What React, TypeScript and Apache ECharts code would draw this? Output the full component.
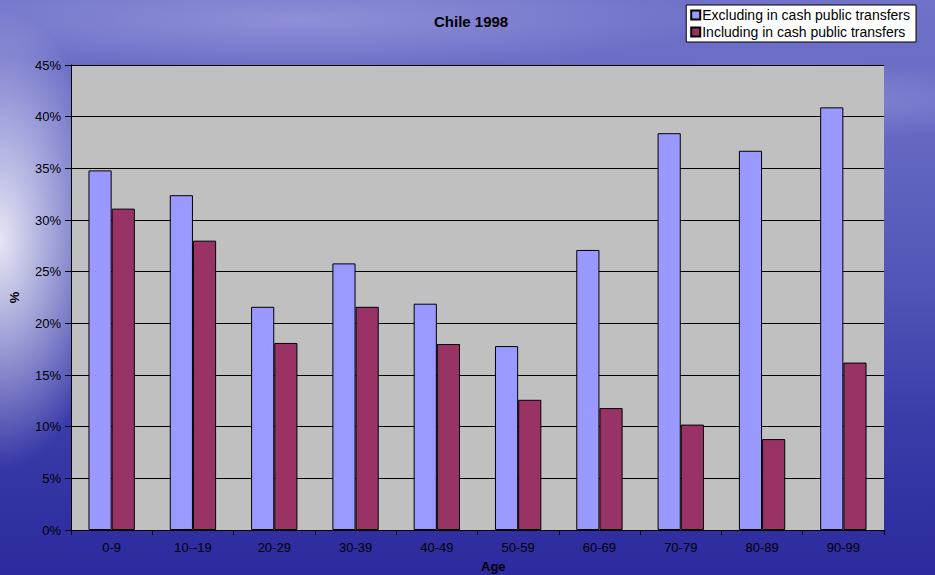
import React, { useEffect, useRef } from "react";
import * as echarts from "echarts";

const categories = ["0-9", "10--19", "20-29", "30-39", "40-49", "50-59", "60-69", "70-79", "80-89", "90-99"];
const excluding = [34.8, 32.4, 21.6, 25.8, 21.9, 17.8, 27.1, 38.4, 36.7, 40.9];
const including = [31.1, 28.0, 18.1, 21.6, 18.0, 12.6, 11.8, 10.2, 8.8, 16.2];
const seriesNames = ["Excluding in cash public transfers", "Including in cash public transfers"];

export default function App() {
  const ref = useRef<HTMLDivElement>(null);
  useEffect(() => {
    if (!ref.current) return;
    const chart = echarts.init(ref.current, null, { renderer: "svg" });
    const font = "Arial, 'Liberation Sans', sans-serif";
    chart.setOption({
      animation: false,
      backgroundColor: "transparent",
      title: {
        text: "Chile 1998",
        left: 429,
        top: 9,
        textStyle: { fontFamily: font, fontSize: 15, fontWeight: "bold", color: "#000" },
      },
      legend: {
        orient: "vertical",
        right: 19,
        top: 5,
        backgroundColor: "#fff",
        borderColor: "#000",
        borderWidth: 1,
        borderRadius: 0,
        padding: [3, 6, 3, 4],
        itemGap: 3,
        itemWidth: 9,
        itemHeight: 9,
        icon: "rect",
        textStyle: { fontFamily: font, fontSize: 14, color: "#000", padding: [0, 0, 0, -3] },
        data: seriesNames,
      },
      grid: { left: 71, right: 51, top: 65, bottom: 45, show: true, backgroundColor: "#C0C0C0", borderWidth: 0 },
      xAxis: {
        type: "category",
        data: categories,
        axisLine: { lineStyle: { color: "#000", width: 1 } },
        axisTick: { show: true, alignWithLabel: false, length: 5, lineStyle: { color: "#000" } },
        axisLabel: { fontFamily: font, fontSize: 13, color: "#000", margin: 11 },
      },
      yAxis: {
        type: "value",
        min: 0,
        max: 45,
        interval: 5,
        name: "%",
        nameLocation: "middle",
        nameGap: 50,
        nameRotate: 90,
        nameTextStyle: { fontFamily: font, fontSize: 13, fontWeight: "bold", color: "#000" },
        axisLine: { show: true, lineStyle: { color: "#000", width: 1 } },
        axisTick: { show: true, length: 6, lineStyle: { color: "#000" } },
        axisLabel: { fontFamily: font, fontSize: 13, color: "#000", margin: 10, formatter: "{value}%" },
        splitLine: { show: true, lineStyle: { color: "#000", width: 1 } },
      },
      graphic: [
        {
          type: "text",
          left: 481,
          top: 560,
          style: { text: "Age", font: "bold 13px Arial, 'Liberation Sans', sans-serif", fill: "#000" },
        },
      ],
      series: [
        {
          name: seriesNames[0],
          type: "bar",
          data: excluding,
          barGap: "0%",
          barCategoryGap: "43%",
          itemStyle: { color: "#9999FF", borderColor: "#000", borderWidth: 1 },
        },
        {
          name: seriesNames[1],
          type: "bar",
          data: including,
          itemStyle: { color: "#993366", borderColor: "#000", borderWidth: 1 },
        },
      ],
    });
    return () => chart.dispose();
  }, []);

  const bg = [
    "radial-gradient(ellipse 110px 230px at 0px 240px, rgba(255,255,255,0.85), rgba(255,255,255,0) 100%)",
    "radial-gradient(ellipse 420px 50px at 300px 20px, rgba(200,200,240,0.35), rgba(200,200,240,0) 100%)",
    "radial-gradient(ellipse 300px 40px at 780px 100px, rgba(200,200,240,0.3), rgba(200,200,240,0) 100%)",
    "linear-gradient(to bottom, #7072c9 0%, #6567c3 25%, #5254b6 50%, #3a3aa8 75%, #2c2a9e 100%)",
  ].join(",");

  return (
    <div style={{ position: "absolute", left: 0, top: 0, width: 935, height: 575, background: bg, overflow: "hidden" }}>
      <div ref={ref} style={{ width: 935, height: 575 }} />
    </div>
  );
}
